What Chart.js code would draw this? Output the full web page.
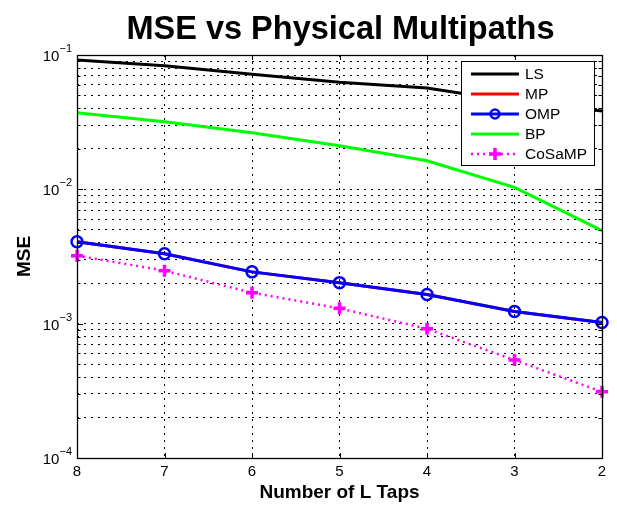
<!DOCTYPE html>
<html><head><meta charset="utf-8">
<script src="https://cdn.jsdelivr.net/npm/chart.js@4"></script>
<style>html,body{margin:0;padding:0;background:#fff}#wrap{width:617px;height:506px}</style>
</head><body><div id="wrap"><canvas id="c" width="617" height="506"></canvas></div>
<script>
const categories = ['8','7','6','5','4','3','2'];
const lsValues = [0.0918, 0.0832, 0.0718, 0.0627, 0.0568, 0.0450, 0.0383];
const mpValues = [0.00407, 0.00331, 0.00243, 0.00202, 0.00165, 0.00123, 0.00102];
const ompValues = [0.00407, 0.00331, 0.00243, 0.00202, 0.00165, 0.00123, 0.00102];
const bpValues = [0.0371, 0.0319, 0.0264, 0.0211, 0.0163, 0.01035, 0.00492];
const cosampValues = [0.00321, 0.00248, 0.00170, 0.00130, 0.000916, 0.000536, 0.000311];
const yDecades = [1e-4, 1e-3, 1e-2, 1e-1];
const yDecadeExponents = ['\u22124', '\u22123', '\u22122', '\u22121'];
const ySignificands = [1, 2, 3, 4, 5, 6, 7, 8, 9];
const titleText = 'MSE vs Physical Multipaths';
const xTitle = 'Number of L Taps';
const yTitle = 'MSE';
const seriesNames = ['LS', 'MP', 'OMP', 'BP', 'CoSaMP'];

const FONT = '"Liberation Sans", Arial, Helvetica, sans-serif';

const yTickValues = [];
yDecades.forEach((d, i) => {
  if (i < yDecades.length - 1) ySignificands.forEach(s => yTickValues.push(s * d));
  else yTickValues.push(d);
});

const datasets = [
  {label: seriesNames[0], data: lsValues, borderColor: '#000000', borderWidth: 3, pointRadius: 0, order: 5},
  {label: seriesNames[1], data: mpValues, borderColor: '#ff0000', borderWidth: 3, pointRadius: 0, order: 4},
  {label: seriesNames[2], data: ompValues, borderColor: '#0000ff', borderWidth: 3, pointRadius: 5.5, pointStyle: 'circle',
   pointBorderColor: '#0000ff', pointBackgroundColor: 'rgba(0,0,0,0)', pointBorderWidth: 2.5, order: 3},
  {label: seriesNames[3], data: bpValues, borderColor: '#00ff00', borderWidth: 3, pointRadius: 0, order: 2},
  {label: seriesNames[4], data: cosampValues, borderColor: '#ff00ff', borderWidth: 2.5, borderDash: [2, 4],
   pointRadius: 6, pointStyle: 'cross', pointBorderColor: '#ff00ff', pointBorderWidth: 3.5, order: 1}
];
datasets.forEach(d => { d.fill = false; d.tension = 0; d.backgroundColor = d.borderColor; });

const decor = {
  id: 'decor',
  afterDraw(chart) {
    const ctx = chart.ctx;
    const a = chart.chartArea;
    const ys = chart.scales.y, xs = chart.scales.x;
    ctx.save();
    ctx.strokeStyle = '#000'; ctx.lineWidth = 1; ctx.setLineDash([]);
    yTickValues.forEach(v => {
      const py = Math.round(ys.getPixelForValue(v)) + 0.5;
      const len = yDecades.includes(v) ? 6 : 3.5;
      ctx.beginPath();
      ctx.moveTo(a.left, py); ctx.lineTo(a.left + len, py);
      ctx.moveTo(a.right, py); ctx.lineTo(a.right - len, py);
      ctx.stroke();
    });
    categories.forEach((c, i) => {
      const px = Math.round(xs.getPixelForValue(i)) + 0.5;
      ctx.beginPath();
      ctx.moveTo(px, a.bottom); ctx.lineTo(px, a.bottom - 5);
      ctx.moveTo(px, a.top); ctx.lineTo(px, a.top + 5);
      ctx.stroke();
    });
    ctx.lineWidth = 1.3;
    ctx.strokeRect(Math.round(a.left) + 0.5, Math.round(a.top) + 0.5, Math.round(a.right - a.left), Math.round(a.bottom - a.top));
    ctx.fillStyle = '#000';
    yDecades.forEach((d, i) => {
      const py = ys.getPixelForValue(d);
      const exp = yDecadeExponents[i];
      ctx.font = '11px ' + FONT;
      const ew = ctx.measureText(exp).width;
      const right = 72;
      ctx.textAlign = 'left'; ctx.textBaseline = 'alphabetic';
      ctx.fillText(exp, right - ew, py - 3);
      ctx.font = '15px ' + FONT;
      ctx.textAlign = 'right';
      ctx.fillText('10', right - ew, py + 6);
    });
    ctx.font = 'bold 32.5px ' + FONT;
    ctx.textAlign = 'center'; ctx.textBaseline = 'alphabetic';
    ctx.fillText(titleText, (a.left + a.right) / 2 + 1, 39);
    const lx = 461.5, ly = 61.5, lw = 133, lh = 104;
    ctx.fillStyle = '#fff';
    ctx.fillRect(lx, ly, lw, lh);
    ctx.strokeStyle = '#000'; ctx.lineWidth = 1;
    ctx.strokeRect(lx, ly, lw, lh);
    chart.data.datasets.forEach((ds, i) => {
      const y = 74 + i * 20;
      ctx.save();
      ctx.strokeStyle = ds.borderColor;
      ctx.lineWidth = ds.borderWidth;
      ctx.setLineDash(ds.borderDash || []);
      ctx.beginPath(); ctx.moveTo(471, y); ctx.lineTo(519, y); ctx.stroke();
      ctx.setLineDash([]);
      if (ds.pointRadius > 0) {
        ctx.lineWidth = ds.pointBorderWidth;
        ctx.strokeStyle = ds.pointBorderColor;
        const r = ds.pointRadius;
        ctx.beginPath();
        if (ds.pointStyle === 'circle') {
          ctx.arc(495, y, r * 0.8, 0, Math.PI * 2);
        } else {
          ctx.moveTo(495 - r, y); ctx.lineTo(495 + r, y);
          ctx.moveTo(495, y - r); ctx.lineTo(495, y + r);
        }
        ctx.stroke();
      }
      ctx.restore();
      ctx.fillStyle = '#000';
      ctx.font = '15.5px ' + FONT;
      ctx.textAlign = 'left'; ctx.textBaseline = 'middle';
      ctx.fillText(ds.label, 525, y + 1);
    });
    ctx.restore();
  }
};

new Chart(document.getElementById('c'), {
  type: 'line',
  data: {labels: categories, datasets},
  options: {
    responsive: false,
    animation: false,
    devicePixelRatio: 1,
    layout: {padding: {left: 0, right: 15, top: 55, bottom: 0}},
    plugins: {legend: {display: false}, tooltip: {enabled: false}, title: {display: false}},
    scales: {
      x: {
        type: 'category',
        offset: false,
        grid: {color: '#000', lineWidth: 1, drawTicks: false},
        border: {display: false, dash: [2, 5]},
        ticks: {color: '#000', font: {size: 15, family: FONT}, padding: 5, maxRotation: 0, autoSkip: false},
        title: {display: true, text: xTitle, color: '#000', font: {size: 19, weight: 'bold', family: FONT}, padding: {top: 0, bottom: 2}},
        afterFit(s) { s.height = 48; }
      },
      y: {
        type: 'logarithmic',
        min: 1e-4, max: 1e-1,
        grid: {color: '#000', lineWidth: 1, drawTicks: false},
        border: {display: false, dash: [2, 5]},
        ticks: {display: false},
        afterBuildTicks(s) { s.ticks = yTickValues.map(v => ({value: v})); },
        title: {display: true, text: yTitle, color: '#000', font: {size: 19, weight: 'bold', family: FONT}, padding: {top: 13, bottom: 0}},
        afterFit(s) { s.width = 77; }
      }
    }
  },
  plugins: [decor]
});
</script>
</body></html>
